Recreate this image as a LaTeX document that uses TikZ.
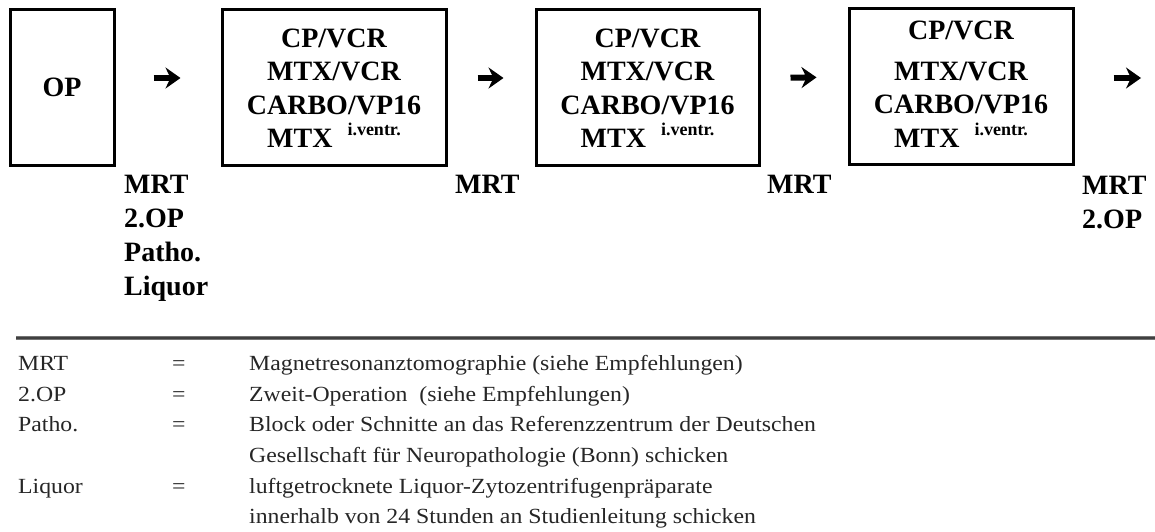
\documentclass[tikz,border=0pt]{standalone}
\usepackage{fontspec}
\setmainfont{Liberation Serif}
\newfontfamily\legfont{Liberation Serif}[FakeStretch=1.1]
\usetikzlibrary{arrows.meta}
\tikzset{
  stagebox/.style={draw, line width=3pt, inner sep=0pt},
  boxtext/.style={align=center, inner sep=0pt, font=\fontsize{28}{33.5}\selectfont\bfseries},
  flowarrow/.style={line width=6pt, -{Stealth[length=15pt,width=21pt,inset=5pt]}},
  exam/.style={anchor=base west, inner sep=0pt, align=left, font=\fontsize{28}{34}\selectfont\bfseries},
  leg/.style={anchor=base west, inner sep=0pt, font=\fontsize{21.6}{31}\selectfont\legfont, text=black!85},
}
\newcommand{\ivtr}{\hspace{15pt}\raisebox{12pt}{\fontsize{18}{18}\selectfont\bfseries i.ventr.}}
\begin{document}
\begin{tikzpicture}[x=1pt,y=-1pt]
\useasboundingbox (0,0) rectangle (1155,531);
% boxes
\node[stagebox, minimum width=104pt, minimum height=156pt] (op) at (62,87.5) {};
\node[font=\fontsize{28}{28}\selectfont\bfseries, inner sep=0pt] (optext) at (op.center) {OP};
\node[stagebox, minimum width=224pt, minimum height=156pt] (b1) at (334,87.5) {};
\node[stagebox, minimum width=223pt, minimum height=156pt] (b2) at (647.5,87.5) {};
\node[stagebox, minimum width=224pt, minimum height=156pt] (b3) at (961,86.5) {};
\node[boxtext] (t1) at (334,88) {CP/VCR\\MTX/VCR\\CARBO/VP16\\MTX\ivtr};
\node[boxtext] (t2) at (647.5,88) {CP/VCR\\MTX/VCR\\CARBO/VP16\\MTX\ivtr};
\node[boxtext] (t3) at (961,84) {CP/VCR\\[7pt]MTX/VCR\\CARBO/VP16\\MTX\ivtr};
\coordinate (endpt) at (1155,78);
% arrows
\draw[flowarrow, shorten <=38pt, shorten >=40pt] ([yshift=9.5pt]op.east) -- ([yshift=9.5pt]b1.west);
\draw[flowarrow, shorten <=30pt, shorten >=31pt] ([yshift=9.5pt]b1.east) -- ([yshift=9.5pt]b2.west);
\draw[flowarrow, shorten <=30pt, shorten >=31pt] ([yshift=9.5pt]b2.east) -- ([yshift=9.5pt]b3.west);
\draw[flowarrow, shorten <=39pt, shorten >=14pt] ([yshift=8.5pt]b3.east) -- (endpt);
% exam labels
\node[exam] (e1) at (124,295) {MRT\\2.OP\\Patho.\\Liquor};
\node[exam] (e2) at (455,193) {MRT};
\node[exam] (e3) at (767,193) {MRT};
\node[exam] (e4) at (1082,228) {MRT\\2.OP};
% rule
\coordinate (rl) at (16,338);
\coordinate (rr) at (1155,338);
\draw[line width=3.5pt, black!55] (rl) -- (rr);
\draw[line width=1.2pt, black!75] (rl) -- (rr);
% legend
\node[leg] (k1) at (18,370) {MRT};
\node[leg] (q1) at (172,370) {=};
\node[leg] (d1) at (249,370) {Magnetresonanztomographie (siehe Empfehlungen)};
\node[leg] (k2) at (18,401) {2.OP};
\node[leg] (q2) at (172,401) {=};
\node[leg] (d2) at (249,401) {Zweit-Operation\ \ (siehe Empfehlungen)};
\node[leg] (k3) at (18,431) {Patho.};
\node[leg] (q3) at (172,431) {=};
\node[leg] (d3) at (249,431) {Block oder Schnitte an das Referenzzentrum der Deutschen};
\node[leg] (d3b) at (249,462) {Gesellschaft für Neuropathologie (Bonn) schicken};
\node[leg] (k4) at (18,493) {Liquor};
\node[leg] (q4) at (172,493) {=};
\node[leg] (d4) at (249,493) {luftgetrocknete Liquor-Zytozentrifugenpräparate};
\node[leg] (d4b) at (249,523) {innerhalb von 24 Stunden an Studienleitung schicken};
\end{tikzpicture}
\end{document}
